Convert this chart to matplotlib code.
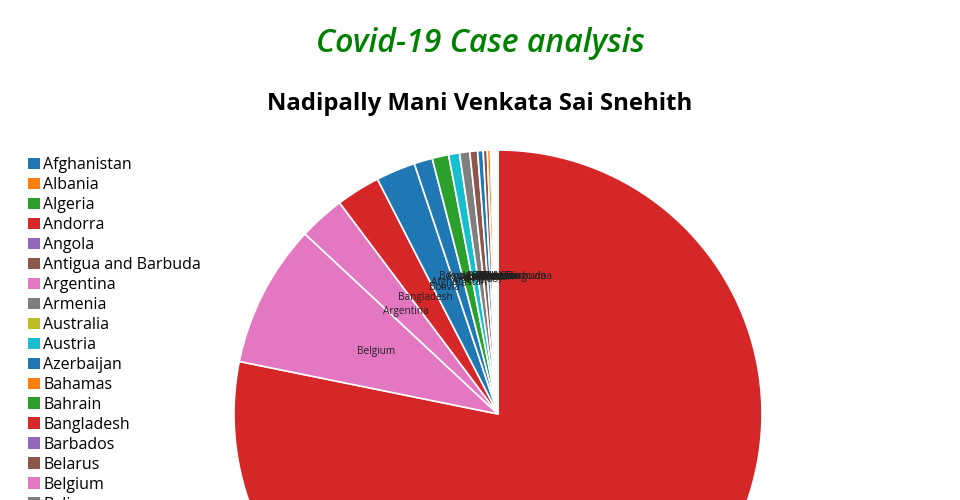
import matplotlib.pyplot as plt
from matplotlib.patches import Patch

plt.rcParams['font.family'] = ['Open Sans', 'DejaVu Sans']

countries = ['Afghanistan', 'Albania', 'Algeria', 'Andorra', 'Angola', 'Antigua and Barbuda',
             'Argentina', 'Armenia', 'Australia', 'Austria', 'Azerbaijan', 'Bahamas', 'Bahrain',
             'Bangladesh', 'Barbados', 'Belarus', 'Belgium', 'Belize', 'Benin', 'Bhutan',
             'Bolivia', 'Bosnia and Herzegovina', 'Botswana', 'Brazil', 'Brunei', 'Bulgaria',
             'Burkina Faso', 'Burma', 'Burundi']
# share of cases (%)
cases = [1.11, 0.19, 1.00, 0.03, 0.03, 0.02,
         2.78, 0.62, 0.09, 0.66, 0.33, 0.02, 0.06,
         2.67, 0.02, 0.47, 8.67, 0.02, 0.02, 0.01,
         2.39, 0.04, 0.02, 77.4, 0.01, 0.25,
         0.02, 0.03, 0.01]

palette = ['#1f77b4', '#ff7f0e', '#2ca02c', '#d62728', '#9467bd',
           '#8c564b', '#e377c2', '#7f7f7f', '#bcbd22', '#17becf']
colors = [palette[i % 10] for i in range(len(countries))]

# plotly-style: slices sorted by value, clockwise from 12 o'clock
order = sorted(range(len(cases)), key=lambda i: -cases[i])
vals = [cases[i] for i in order]
labs = [countries[i] for i in order]
cols = [colors[i] for i in order]

fig = plt.figure(figsize=(9.6, 5), dpi=100)

R = 264
cx, cy = 498, 414
ax = fig.add_axes([(cx - R) / 960, (500 - cy - R) / 500, 2 * R / 960, 2 * R / 500])
wedges, texts = ax.pie(vals, labels=labs, colors=cols, startangle=90, counterclock=False,
                       labeldistance=0.52,
                       wedgeprops=dict(edgecolor='white', linewidth=1.2),
                       textprops=dict(fontsize=7.2, color='#222222'))
for t in texts:
    t.set_ha('center')
ax.set_xlim(-1, 1)
ax.set_ylim(-1, 1)
ax.axis('off')

fig.text(0.5, 1 - 43 / 500, 'Covid-19 Case analysis', ha='center', va='center',
         color='green', fontsize=23, style='italic', fontweight='semibold')
fig.text(0.5, 1 - 104 / 500, 'Nadipally Mani Venkata Sai Snehith', ha='center', va='center',
         color='black', fontsize=17.2, fontweight='bold')

handles = [Patch(facecolor=c, edgecolor='none') for c in colors]
fig.legend(handles, countries, loc='upper left', bbox_to_anchor=(28 / 960, 1 - 157 / 500),
           frameon=False, fontsize=11.5, handlelength=0.75, handleheight=0.75,
           handletextpad=0.22, labelspacing=0.25, borderpad=0, borderaxespad=0)

fig.savefig('out.png', dpi=100)
